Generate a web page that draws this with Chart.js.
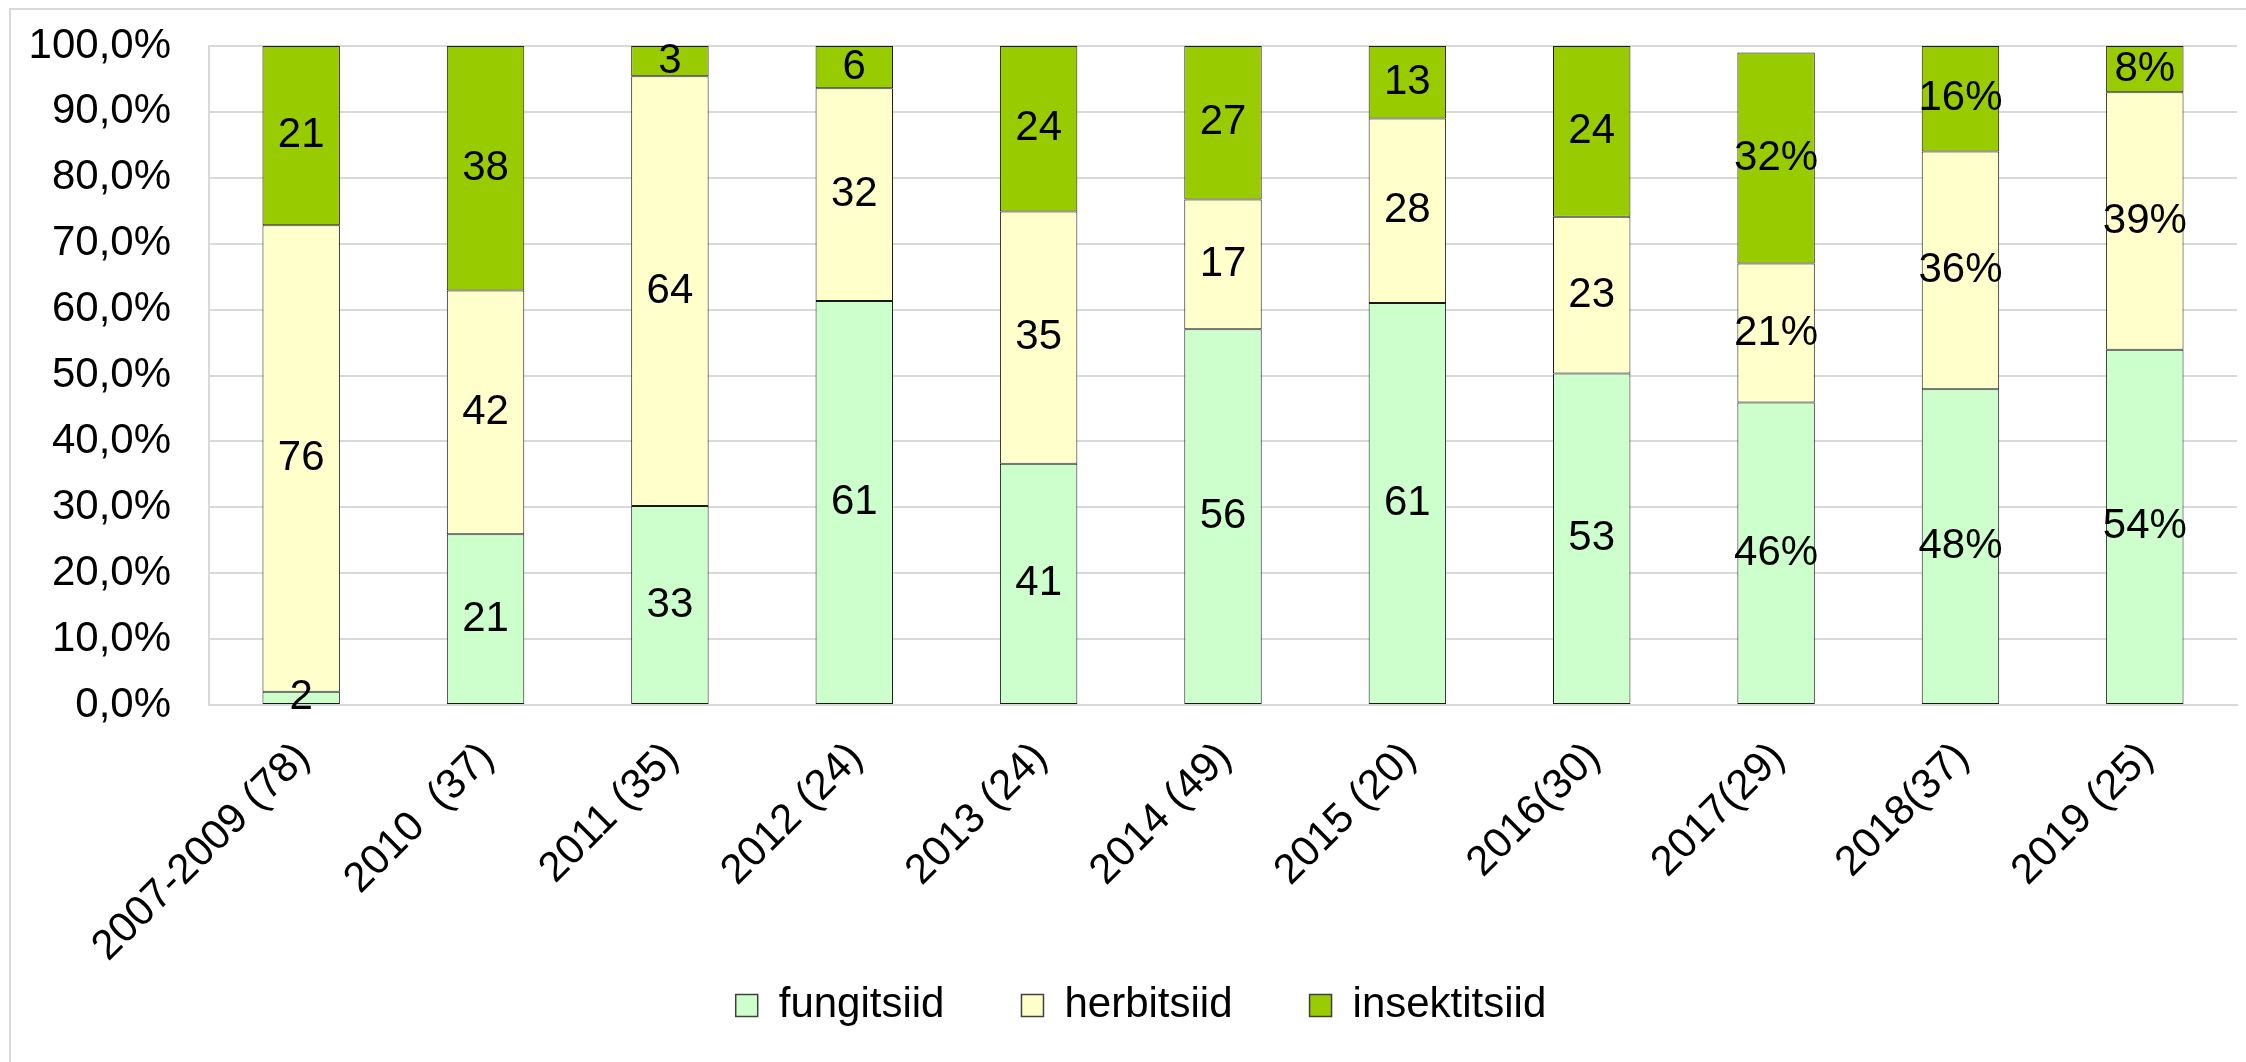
<!DOCTYPE html>
<html>
<head>
<meta charset="utf-8">
<script src="https://cdn.jsdelivr.net/npm/chart.js@4/dist/chart.umd.min.js"></script>
<style>
  html, body { margin: 0; padding: 0; background: #fff; }
  canvas { display: block; }
</style>
</head>
<body>
<canvas id="c" width="2246" height="1062"></canvas>
<script>
const categories = ["2007-2009 (78)", "2010  (37)", "2011 (35)", "2012 (24)", "2013 (24)", "2014 (49)", "2015 (20)", "2016(30)", "2017(29)", "2018(37)", "2019 (25)"];
const fungitsiid   = [2.0, 25.9, 30.2, 61.3, 36.6, 57.0, 61.0, 50.3, 45.9, 47.9, 53.9];
const herbitsiid   = [70.8, 37.0, 65.2, 32.3, 38.3, 19.7, 28.0, 23.8, 21.1, 36.1, 39.1];
const insektitsiid = [27.2, 37.1, 4.6, 6.4, 25.1, 23.3, 11.0, 25.9, 32.0, 16.0, 7.0];
const fungiLabels  = ["2", "21", "33", "61", "41", "56", "61", "53", "46%", "48%", "54%"];
const herbLabels   = ["76", "42", "64", "32", "35", "17", "28", "23", "21%", "36%", "39%"];
const insectLabels = ["21", "38", "3", "6", "24", "27", "13", "24", "32%", "16%", "8%"];
const yTickLabels  = ["0,0%", "10,0%", "20,0%", "30,0%", "40,0%", "50,0%", "60,0%", "70,0%", "80,0%", "90,0%", "100,0%"];
const seriesNames  = ["fungitsiid", "herbitsiid", "insektitsiid"];

const FONT = "'Liberation Sans', Arial, sans-serif";
const FS = 42;
const GRID = '#d9d9d9';

const segmentLabels = {
  id: 'segmentLabels',
  afterDatasetsDraw(chart) {
    const ctx = chart.ctx;
    ctx.save();
    ctx.font = FS + 'px ' + FONT;
    ctx.fillStyle = '#000';
    ctx.textAlign = 'center';
    ctx.textBaseline = 'middle';
    chart.data.datasets.forEach((ds, di) => {
      const meta = chart.getDatasetMeta(di);
      meta.data.forEach((el, i) => {
        const txt = ds.segLabels[i];
        if (!txt) return;
        ctx.fillText(txt, el.x, (el.y + el.base) / 2);
      });
    });
    ctx.restore();
  }
};

const outerFrame = {
  id: 'outerFrame',
  beforeDraw(chart) {
    const ctx = chart.ctx;
    ctx.save();
    ctx.fillStyle = '#fff';
    ctx.fillRect(0, 0, chart.width, chart.height);
    ctx.strokeStyle = GRID;
    ctx.lineWidth = 2;
    ctx.beginPath();
    ctx.moveTo(chart.width, 9);
    ctx.lineTo(10, 9);
    ctx.lineTo(10, chart.height);
    ctx.stroke();
    ctx.restore();
  }
};

const common = { borderColor: '#1a1a1a', borderWidth: 1, borderSkipped: false, barPercentage: 0.42, categoryPercentage: 1.0 };

new Chart(document.getElementById('c'), {
  type: 'bar',
  data: {
    labels: categories,
    datasets: [
      Object.assign({ label: seriesNames[0], data: fungitsiid, backgroundColor: '#ccffcc', segLabels: fungiLabels }, common),
      Object.assign({ label: seriesNames[1], data: herbitsiid, backgroundColor: '#ffffcc', segLabels: herbLabels }, common),
      Object.assign({ label: seriesNames[2], data: insektitsiid, backgroundColor: '#99cc00', segLabels: insectLabels }, common)
    ]
  },
  options: {
    responsive: false,
    animation: false,
    devicePixelRatio: 1,
    layout: { padding: { left: 45, right: 9, top: 46, bottom: 25.5 } },
    plugins: {
      tooltip: { enabled: false },
      legend: {
        position: 'bottom',
        labels: {
          font: { family: FONT, size: FS },
          color: '#000',
          boxWidth: 22,
          boxHeight: 22,
          padding: 77,
          generateLabels(chart) {
            return chart.data.datasets.map((ds, i) => ({
              text: ds.label,
              fillStyle: ds.backgroundColor,
              strokeStyle: '#404040',
              lineWidth: 1.5,
              hidden: false,
              datasetIndex: i,
              fontColor: '#000'
            }));
          }
        }
      }
    },
    scales: {
      x: {
        stacked: true,
        grid: { display: false, drawTicks: false },
        border: { display: true, color: GRID, width: 2 },
        ticks: {
          font: { family: FONT, size: FS },
          color: '#000',
          minRotation: 45,
          maxRotation: 45,
          autoSkip: false,
          padding: 28,
          labelOffset: 2
        },
        afterFit(scale) {
          scale.height = 202.5;
          scale._computeLabelArea = function () { return undefined; };
        }
      },
      y: {
        stacked: true,
        min: 0,
        max: 100,
        grid: { color: GRID, lineWidth: 2, drawTicks: false },
        border: { display: true, color: GRID, width: 2 },
        ticks: {
          stepSize: 10,
          font: { family: FONT, size: FS },
          color: '#000',
          padding: 38,
          callback: (v) => yTickLabels[Math.round(v / 10)]
        },
        afterFit(scale) {
          scale.width = 164;
          scale.paddingTop = 0;
          scale.paddingBottom = 0;
          scale._computeLabelArea = function () { return undefined; };
        }
      }
    }
  },
  plugins: [outerFrame, segmentLabels]
});
</script>
</body>
</html>
